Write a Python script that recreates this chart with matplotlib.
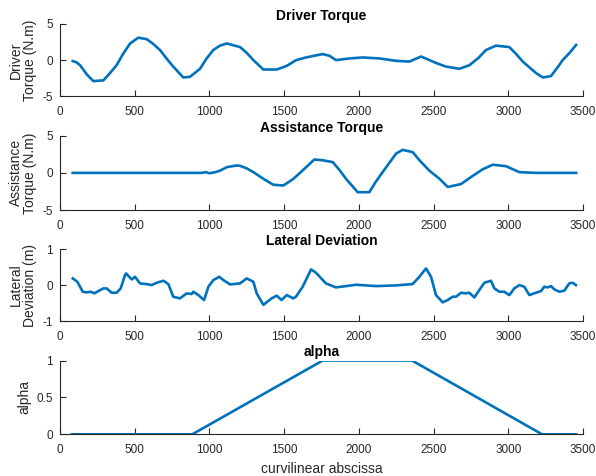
import numpy as np
import matplotlib
matplotlib.use('Agg')
import matplotlib.pyplot as plt

plt.rcParams['font.family'] = ['Liberation Sans', 'DejaVu Sans']

# Driver torque (N.m)
driver_x = [85, 110, 134, 180, 223, 290, 330, 379, 420, 469, 524, 580, 620, 669, 710, 758, 825, 870,
            937, 980, 1026, 1070, 1116, 1205, 1250, 1294, 1361, 1450, 1517, 1580, 1647, 1700, 1758,
            1803, 1847, 1936, 2026, 2137, 2249, 2338, 2416, 2472, 2530, 2584, 2673, 2740, 2800,
            2851, 2918, 3007, 3050, 3097, 3186, 3231, 3286, 3330, 3364, 3410, 3454]
driver_y = [-0.14, -0.3, -0.7, -2.0, -2.9, -2.8, -1.9, -0.7, 0.8, 2.3, 3.1, 2.9, 2.3, 1.4, 0.3, -0.9,
            -2.4, -2.3, -1.2, 0.2, 1.4, 2.0, 2.3, 1.8, 1.0, 0.0, -1.3, -1.3, -0.8, 0.0, 0.37, 0.6,
            0.83, 0.6, 0.0, 0.23, 0.37, 0.23, -0.1, -0.2, 0.5, 0.0, -0.5, -0.9, -1.2, -0.7, 0.3,
            1.4, 2.0, 1.8, 0.9, -0.2, -1.8, -2.4, -2.2, -1.0, 0.0, 1.0, 2.1]

# Assistance torque (N.m)
assist_x = [85, 950, 975, 1000, 1040, 1071, 1116, 1183, 1205, 1250, 1294, 1361, 1428, 1495, 1562,
            1606, 1647, 1702, 1758, 1825, 1870, 1914, 1992, 2070, 2110, 2159, 2249, 2293, 2360, 2410,
            2472, 2540, 2595, 2684, 2762, 2830, 2896, 2985, 3074, 3186, 3454]
assist_y = [0, 0, 0.1, -0.05, 0.1, 0.3, 0.77, 1.0, 0.95, 0.6, 0.1, -0.8, -1.6, -1.7, -0.8,
            0.0, 0.77, 1.8, 1.7, 1.45, 0.4, -0.8, -2.6, -2.6, -1.3, 0.1, 2.6, 3.1, 2.8, 1.6,
            0.3, -0.8, -1.9, -1.5, -0.4, 0.5, 1.1, 0.9, 0.1, 0.0, 0.0]

# Lateral deviation (m)
lat_x = [85, 116, 152, 178, 205, 230, 256, 290, 312, 346, 379, 406, 435, 442, 480, 502, 535, 580,
         613, 647, 692, 725, 758, 803, 848, 881, 892, 926, 964, 993, 1026, 1066, 1093, 1138, 1205,
         1249, 1294, 1316, 1361, 1416, 1450, 1483, 1517, 1561, 1579, 1624, 1680, 1713, 1780, 1847,
         1981, 2115, 2249, 2360, 2405, 2449, 2483, 2516, 2561, 2594, 2628, 2650, 2684, 2717, 2739,
         2773, 2806, 2840, 2884, 2907, 2940, 2973, 3007, 3040, 3074, 3107, 3141, 3185, 3219, 3241,
         3264, 3286, 3308, 3342, 3375, 3408, 3431, 3453]
lat_y = [0.185, 0.093, -0.185, -0.204, -0.185, -0.23, -0.167, -0.093, -0.093, -0.213, -0.213,
         -0.093, 0.278, 0.324, 0.157, 0.231, 0.046, 0.028, 0.0, 0.065, 0.12, 0.028, -0.324, -0.37,
         -0.23, -0.25, -0.185, -0.278, -0.417, -0.046, 0.139, 0.231, 0.139, 0.019, 0.046, 0.185,
         0.093, -0.23, -0.55, -0.37, -0.296, -0.417, -0.278, -0.37, -0.324, -0.046, 0.435, 0.343,
         0.046, -0.065, 0.009, -0.028, -0.009, 0.028, 0.231, 0.463, 0.231, -0.278, -0.48, -0.417,
         -0.324, -0.324, -0.213, -0.23, -0.213, -0.343, -0.139, 0.065, 0.12, -0.093, -0.185,
         -0.185, -0.278, -0.093, 0.0, -0.046, -0.278, -0.213, -0.167, -0.046, -0.065, -0.028,
         -0.12, -0.185, -0.157, 0.046, 0.065, 0.0]

# alpha
alpha_x = [80, 885, 1758, 2356, 3226, 3454]
alpha_y = [0, 0, 1, 1, 0, 0]

azul = '#0072BD'
cinza = '#262626'

fig = plt.figure(figsize=(5.96, 4.76), dpi=100)

paineis = [
    ([0.1007, 0.7977, 0.8775, 0.152], driver_x, driver_y, 'Driver Torque', 'Driver\nTorque (N.m)', (-5, 5), [-5, 0, 5], ['-5', '0', '5']),
    ([0.1007, 0.5588, 0.8775, 0.156], assist_x, assist_y, 'Assistance Torque', 'Assistance\nTorque (N.m)', (-5, 5), [-5, 0, 5], ['-5', '0', '5']),
    ([0.1007, 0.3256, 0.8775, 0.151], lat_x, lat_y, 'Lateral Deviation', 'Lateral\nDeviation (m)', (-1, 1), [-1, 0, 1], ['-1', '0', '1']),
    ([0.1007, 0.0876, 0.8775, 0.155], alpha_x, alpha_y, 'alpha', 'alpha', (0, 1), [0, 0.5, 1], ['0', '0.5', '1']),
]

for pos, x, y, titulo, ylab, ylim, yt, ytl in paineis:
    ax = fig.add_axes(pos)
    ax.plot(x, y, color=azul, linewidth=1.9)
    ax.set_xlim(0, 3500)
    ax.set_ylim(*ylim)
    ax.set_xticks(np.arange(0, 3501, 500))
    ax.set_yticks(yt)
    ax.set_yticklabels(ytl)
    ax.spines['top'].set_visible(False)
    ax.spines['right'].set_visible(False)
    for s in ['left', 'bottom']:
        ax.spines[s].set_color(cinza)
        ax.spines[s].set_linewidth(0.8)
    ax.tick_params(direction='in', length=4, width=0.8, colors=cinza, labelsize=8.5)
    ax.tick_params(axis='x', pad=7)
    ax.tick_params(axis='y', pad=5)
    ax.set_title(titulo, fontsize=10, fontweight='bold', pad=3)
    ax.set_ylabel(ylab, fontsize=10, color=cinza, labelpad=4, linespacing=1.0)

ax.set_xlabel('curvilinear abscissa', fontsize=10, color=cinza, labelpad=4)

fig.savefig('out.png', dpi=100)
